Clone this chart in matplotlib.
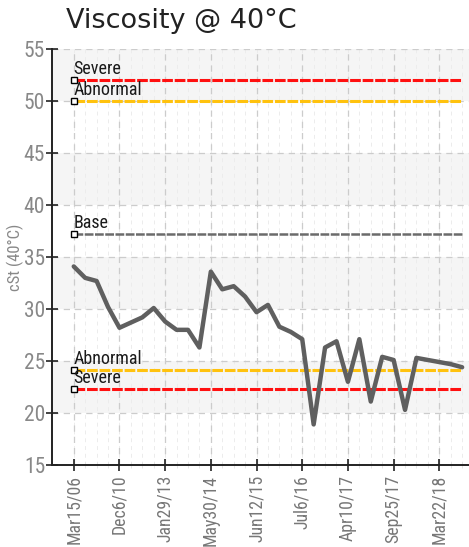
import matplotlib
matplotlib.use('Agg')
import matplotlib.pyplot as plt
from matplotlib import font_manager
from matplotlib.ticker import MultipleLocator
import numpy as np

# ---- data ----
viscosity = [34.1, 33.0, 32.7, 30.2, 28.2, 28.7, 29.2, 30.1, 28.8, 28.0,
             28.0, 26.3, 33.6, 31.9, 32.2, 31.2, 29.7, 30.4, 28.3, 27.8,
             27.1, 18.9, 26.3, 26.9, 23.0, 27.1, 21.1, 25.4, 25.1, 20.3,
             25.3, 25.1, 24.9, 24.7, 24.4]
tick_labels = ['Mar15/06', 'Dec6/10', 'Jan29/13', 'May30/14', 'Jun12/15',
               'Jul6/16', 'Apr10/17', 'Sep25/17', 'Mar22/18']
tick_every = 4

limit_names = ['Severe', 'Abnormal', 'Base', 'Abnormal', 'Severe']
limit_values = [52.0, 50.0, 37.2, 24.1, 22.3]
limit_colors = ['#ff1010', '#ffc20e', '#6b6b6b', '#ffc20e', '#ff1010']

# pick a narrow face if one is installed
installed = {f.name for f in font_manager.fontManager.ttflist}
narrow = 'Liberation Sans'
for cand in ['Roboto Condensed', 'Liberation Sans Narrow', 'Open Sans Condensed',
             'Arial Narrow', 'DejaVu Sans Condensed']:
    if cand in installed:
        narrow = cand
        break
NARROW = [narrow, 'DejaVu Sans']

fig = plt.figure(figsize=(4.69, 5.47), dpi=100)
ax = fig.add_axes([0.111, 0.150, 0.889, 0.760])

x = np.arange(len(viscosity))

# alternating background bands
for lo in range(15, 55, 5):
    if (lo // 5) % 2 == 0:
        ax.axhspan(lo, lo + 5, color='#f5f5f5', zorder=0, lw=0)

# grid
for i in x:
    ax.axvline(i, color='#ececec', lw=0.7, ls=(0, (4, 4)), zorder=1)
for i in x[::tick_every]:
    ax.axvline(i, color='#cccccc', lw=0.9, ls=(0, (5, 4)), zorder=1)
for v in range(20, 56, 5):
    ax.axhline(v, color='#cccccc', lw=0.9, ls=(0, (5, 4)), zorder=1)

# limit lines with labels
for name, val, col in zip(limit_names, limit_values, limit_colors):
    lw = 2.2 if name != 'Base' else 1.8
    ax.plot([x[0], x[-1]], [val, val], color=col, lw=lw,
            ls=(0, (3.5, 0.6)), zorder=3, solid_capstyle='butt')
    ax.plot([x[0]], [val], marker='s', ms=5, mfc='white', mec='black',
            mew=1.0, zorder=5, clip_on=False)
    ax.text(x[0] - 0.05, val + 0.2, name, fontsize=13, family=NARROW,
            color='#1a1a1a', ha='left', va='bottom', zorder=6)

# main series
ax.plot(x, viscosity, color='#5f5f5f', lw=3.2, zorder=4,
        solid_joinstyle='round', solid_capstyle='round')

ax.set_xlim(-1.9, 34.6)
ax.set_ylim(15, 55)
ax.yaxis.set_major_locator(MultipleLocator(5))
ax.set_xticks(x[::tick_every])
ax.set_xticklabels(tick_labels, rotation=90, fontsize=12.8,
                   family=NARROW, color='#777777')
ax.set_xticks(x, minor=True)
for lab in ax.get_yticklabels():
    lab.set_family(NARROW)
ax.tick_params(axis='y', labelsize=15.5, direction='inout',
               length=8, width=1.2, pad=1, colors='#222222',
               labelcolor='#888888')
ax.tick_params(axis='x', direction='inout', length=8, width=1.2,
               colors='#222222', labelcolor='#777777', pad=3)
ax.tick_params(axis='x', which='minor', direction='inout', length=4,
               width=0.6, colors='#e0e0e0')

for s in ['top', 'right']:
    ax.spines[s].set_visible(False)
for s in ['left', 'bottom']:
    ax.spines[s].set_color('#222222')
    ax.spines[s].set_linewidth(1.4)

ax.set_ylabel('cSt (40°C)', fontsize=12, family=NARROW, color='#888888')
ax.yaxis.set_label_coords(-0.068, 0.5)

fig.text(0.141, 0.962, 'Viscosity @ 40°C', fontsize=19.5, color='#222222',
         ha='left', va='center')

fig.savefig('out.png', dpi=100)
